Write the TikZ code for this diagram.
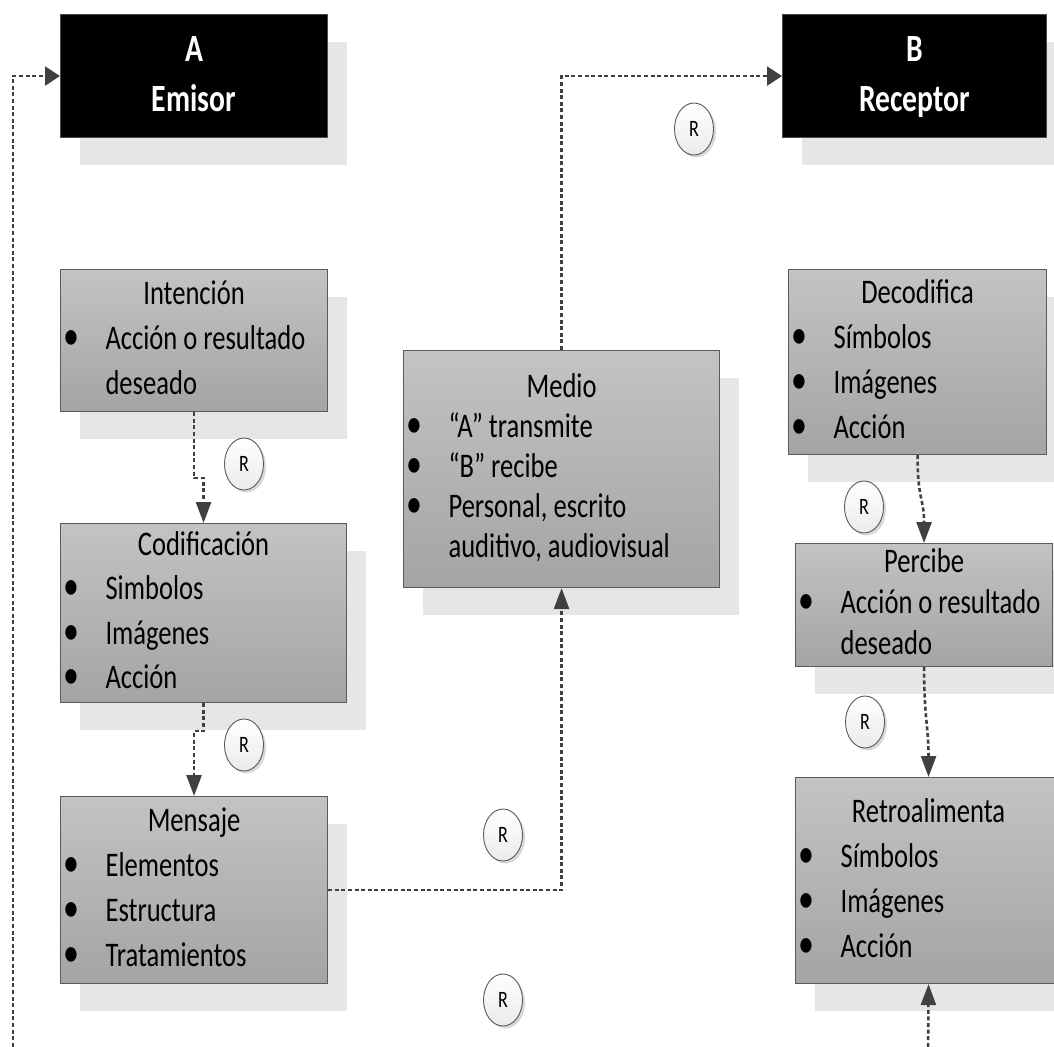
\documentclass[tikz,border=0pt]{standalone}
\usepackage{fontspec}
\usepackage{graphicx}
\setmainfont{Carlito}[FakeStretch=0.77]
\usetikzlibrary{arrows.meta,shapes.geometric,shadows}

\definecolor{boxtop}{HTML}{C3C3C3}
\definecolor{boxbot}{HTML}{A4A4A4}
\definecolor{boxline}{HTML}{5A5A5A}
\definecolor{shadowgray}{HTML}{E6E6E6}
\definecolor{linkgray}{HTML}{404040}

% box contents: centred heading, bullet lines, continuation lines
\newcommand\wsp{\spaceskip=6pt plus 1pt minus 1pt\relax}
\newcommand\ttl[1]{\wsp\noindent\makebox[\hsize][c]{\strut#1}\par}
\newcommand\itm[1]{\wsp\noindent\hspace*{3pt}\makebox[42pt][l]{\scalebox{1.2}{\textbullet}}\strut#1\par}
\newcommand\cnt[1]{\wsp\noindent\hspace*{45pt}\strut#1\par}
\newcommand\fsz[1]{\fontsize{34.5}{#1}\selectfont}

\begin{document}
\begin{tikzpicture}[x=1pt,y=-1pt,
  boxshadow/.style={drop shadow={shadow xshift=19pt,shadow yshift=-27pt,fill=shadowgray,opacity=1}},
  graybox/.style={draw=boxline,line width=1.1pt,top color=boxtop,bottom color=boxbot,
    anchor=north west,inner sep=0pt,align=left,boxshadow},
  boxsize/.style 2 args={minimum width=#1,text width=#1,minimum height=#2},
  blackbox/.style={draw=black!70,line width=1.1pt,fill=black,text=white,anchor=north west,
    inner sep=0pt,align=center,font=\bfseries\fontsize{38.5}{50}\selectfont,boxshadow},
  rmark/.style={ellipse,draw=boxline,line width=0.9pt,top color=white,bottom color=black!8,
    minimum width=39pt,minimum height=52pt,inner sep=0pt,font=\fontsize{23.5}{28}\selectfont,
    drop shadow={shadow xshift=2.5pt,shadow yshift=-2.5pt,fill=black!25,opacity=0.6}},
  link/.style={draw=linkgray,line width=2.6pt,dash pattern=on 4pt off 2.6pt},
  vtip/.style={-{Triangle[length=21pt,width=15pt]}},
  htip/.style={-{Triangle[length=15pt,width=19pt]}},
]
\clip (0,0) rectangle (1054,1046);
\fill[white] (0,0) rectangle (1054,1046);

% sender and receiver
\node[blackbox,minimum width=267pt,minimum height=123pt] (A) at (60,14) {\strut A\\\strut Emisor};
\node[blackbox,minimum width=264pt,minimum height=123pt] (B) at (782,14) {\strut B\\\strut Receptor};

% sender side
\node[graybox,boxsize={267pt}{142pt},font=\fsz{45}] (int) at (60,269)
  {\ttl{Intención}\itm{Acción o resultado}\cnt{deseado}};
\node[graybox,boxsize={286pt}{179pt},font=\fsz{44.5}] (cod) at (60,523)
  {\ttl{Codificación}\itm{Simbolos}\itm{Imágenes}\itm{Acción}};
\node[graybox,boxsize={267pt}{187pt},font=\fsz{45}] (mens) at (60,796)
  {\ttl{Mensaje}\itm{Elementos}\itm{Estructura}\itm{Tratamientos}};

% channel
\node[graybox,boxsize={316pt}{237pt},font=\fsz{40}] (med) at (403,350)
  {\ttl{Medio}\itm{“A” transmite}\itm{“B” recibe}\itm{Personal, escrito}\cnt{auditivo, audiovisual}};

% receiver side
\node[graybox,boxsize={258pt}{185pt},font=\fsz{45}] (dec) at (788,269)
  {\ttl{Decodifica}\itm{Símbolos}\itm{Imágenes}\itm{Acción}};
\node[graybox,boxsize={257pt}{123pt},font=\fsz{41}] (per) at (795,543)
  {\ttl{Percibe}\itm{Acción o resultado}\cnt{deseado}};
\node[graybox,boxsize={266pt}{206pt},font=\fsz{45}] (ret) at (795,777)
  {\ttl{Retroalimenta}\itm{Símbolos}\itm{Imágenes}\itm{Acción}};

% loose ends of the feedback loop
\coordinate (loopin) at (13,1060);
\coordinate (retin) at (928,1060);

% connectors
\draw[link,vtip] (int.south) -- ++(0,66) -| (cod.north);
\draw[link,vtip] (cod.south) -- ++(0,28) -| (mens.north);
\draw[link,vtip] (mens.east) -| (med.south);
\draw[link,htip] (med.north) |- (B.west);
\draw[link,htip] (loopin) |- (A.west);
\draw[link,vtip] (dec.south) .. controls +(0,45) and +(0,-45) .. (per.north);
\draw[link,vtip] (per.south) .. controls +(0,50) and +(0,-50) .. (ret.north);
\draw[link,vtip] (retin) -- (ret.south);

% noise markers
\node[rmark] (r1) at (694,129) {R};
\node[rmark] (r2) at (244,464) {R};
\node[rmark] (r3) at (244,745) {R};
\node[rmark] (r4) at (503,835) {R};
\node[rmark] (r5) at (503,1000) {R};
\node[rmark] (r6) at (864,507) {R};
\node[rmark] (r7) at (865,722) {R};
\end{tikzpicture}
\end{document}
